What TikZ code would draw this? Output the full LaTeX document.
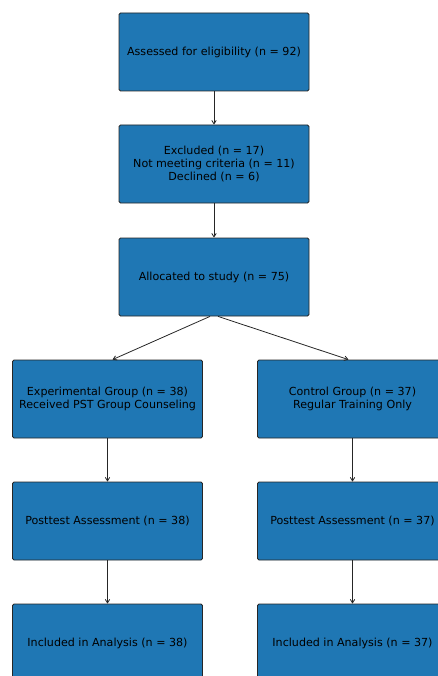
\documentclass[tikz,border=0pt]{standalone}
\usepackage{fontspec}
\setmainfont{DejaVu Sans}
\usetikzlibrary{arrows.meta}
\definecolor{mplblue}{HTML}{1F77B4}
\begin{document}
\begin{tikzpicture}[x=1bp,y=-1bp,
  flowbox/.style={draw=black!85, line width=0.8bp, fill=mplblue, rounded corners=1.5bp,
    minimum width=190bp, minimum height=78bp, inner sep=0pt, align=center,
    font=\fontsize{11.1bp}{13bp}\selectfont, text=black},
  flowarrow/.style={draw=black!85, line width=0.8bp, -{Straight Barb[length=3.5bp,width=4.5bp]}}]
\useasboundingbox (0,0) rectangle (438,676);
\node[flowbox] (b1) at (214,52) {Assessed for eligibility (n = 92)};
\node[flowbox] (b2) at (214,164) {Excluded (n = 17)\\Not meeting criteria (n = 11)\\Declined (n = 6)};
\node[flowbox] (b3) at (214,277) {Allocated to study (n = 75)};
\node[flowbox] (b4) at (107.5,399) {Experimental Group (n = 38)\\Received PST Group Counseling};
\node[flowbox] (b5) at (352.5,399) {Control Group (n = 37)\\Regular Training Only};
\node[flowbox] (b6) at (107.5,521) {Posttest Assessment (n = 38)};
\node[flowbox] (b7) at (352.5,521) {Posttest Assessment (n = 37)};
\node[flowbox] (b8) at (107.5,643) {Included in Analysis (n = 38)};
\node[flowbox] (b9) at (352.5,643) {Included in Analysis (n = 37)};
\draw[flowarrow] (b1.south) -- (b2.north);
\draw[flowarrow] (b2.south) -- (b3.north);
\draw[flowarrow] ([xshift=-4bp]b3.south) -- ([xshift=5bp]b4.north);
\draw[flowarrow] ([xshift=4bp]b3.south) -- ([xshift=-4bp]b5.north);
\draw[flowarrow] (b4.south) -- (b6.north);
\draw[flowarrow] (b5.south) -- (b7.north);
\draw[flowarrow] (b6.south) -- (b8.north);
\draw[flowarrow] (b7.south) -- (b9.north);
\end{tikzpicture}
\end{document}
